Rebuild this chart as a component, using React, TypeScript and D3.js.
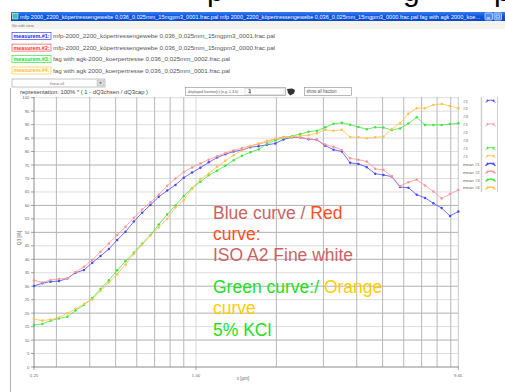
import React from "react";
import * as d3 from "d3";

// ---------- data ----------
const sizes = [0.2473,0.2658,0.2855,0.3068,0.3296,0.3540,0.3804,0.4087,0.4391,0.4717,0.5068,0.5445,0.5850,0.6285,0.6752,0.7254,0.7797,0.8375,0.8999,0.9667,1.0387,1.116,1.199,1.288,1.384,1.487,1.597,1.716,1.844,1.981,2.128,2.287,2.457,2.640,2.836,3.047,3.274,3.517,3.779,4.059,4.362,4.687,5.035,5.410,5.811,6.244,6.709,7.208,7.745,8.321,8.940,9.605];

const blueValues = [30.1,31.1,31.7,31.9,32.9,35.0,36.0,38.7,41.2,43.8,47.2,50.2,54.0,57.3,60.2,63.2,65.5,67.6,70.3,72.2,74.0,76.0,77.8,79.0,80.0,80.6,81.6,82.0,82.5,83.0,84.5,85.3,85.2,84.6,84.4,82.2,80.7,80.0,75.8,75.4,74.2,71.8,71.3,70.7,66.8,66.6,64.0,62.8,60.8,59.0,56.1,57.7];
const redValues = [32.2,31.4,32.3,32.7,32.9,35.3,37.2,39.7,42.8,45.9,49.0,52.1,55.4,58.5,61.2,64.0,67.3,70.0,72.4,74.1,75.6,77.0,78.3,79.4,80.4,81.3,82.1,82.8,83.6,84.7,85.4,85.5,85.2,84.8,84.2,82.6,81.8,80.6,77.5,77.0,76.3,73.6,73.2,70.8,67.2,68.6,69.6,67.4,65.2,62.6,64.2,65.7];
const greenValues = [15.6,16.0,17.2,18.0,18.7,21.0,23.0,25.6,29.0,32.2,35.9,39.3,42.4,45.8,49.0,52.9,56.6,60.0,63.5,66.4,68.8,71.2,72.9,74.7,76.8,78.4,79.7,80.8,82.8,84.2,85.1,85.7,86.5,87.4,87.7,89.0,90.3,90.7,90.0,89.1,88.3,89.0,88.9,88.0,88.6,90.4,92.7,89.9,89.9,89.9,90.2,90.5];
const orangeValues = [17.7,17.3,17.6,18.4,20.0,21.6,23.4,25.1,28.3,31.4,34.4,38.0,42.0,45.4,48.8,51.8,55.0,59.2,62.0,66.2,69.8,71.8,74.4,76.6,78.6,80.4,82.0,83.0,84.0,84.8,85.2,85.5,85.8,86.1,86.8,88.1,87.7,88.1,85.4,85.3,84.9,85.3,85.5,88.4,90.5,94.0,96.1,96.1,97.3,97.7,96.9,96.1];

const yTicks = [0,5,10,15,20,25,30,35,40,45,50,55,60,65,70,75,80,85,90,95,100];
const yDarkTicks = [0,10,20,30,40,50,60,75];
const xGridValues = [0.3,0.4,0.5,0.6,0.7,0.8,0.9,1,2,3,4,5,6,7,8,9];
const xTickValues = [0.2473, 1, 9.605];
const xTickLabels = ["0.25", "1.00", "9.65"];

const measurementNames = ["measurem.#1:", "measurem.#2:", "measurem.#3:", "measurem.#4:"];
const fileNames = [
  "mfp-2000_2200_köpertressengewebe 0,036_0,025mm_15mgpm3_0001.frac.pal",
  "mfp-2000_2200_köpertressengewebe 0,036_0,025mm_15mgpm3_0000.frac.pal",
  "fag with agk-2000_koerpertresse 0,036_0,025mm_0002.frac.pal",
  "fag with agk 2000_koerpertresse 0,036_0,025mm_0001.frac.pal",
];
const rightLegendLabels = ["#1","#2","#3","#1","#2","#3","#1","#1","mean #1","mean #2","mean #3","mean #4"];
const rightLegendIconSeries = [0, -1, -1, 1, -1, -1, 2, 3, 0, 1, 2, 3];

const seriesColors = ["#4a4aff", "#ff9494", "#40e640", "#ffc24e"];
const boxColors = ["#2323ff", "#ff3030", "#22dd22", "#ffc020"];

const titleText = "mfp 2000_2200_köpertressengewebe 0,036_0,025mm_15mgpm3_0001.frac.pal  mfp 2000_2200_köpertressengewebe 0,036_0,025mm_15mgpm3_0000.frac.pal  fag with agk 2000_koe...";

const FONT = "'Liberation Sans', Arial, sans-serif";

export default function App() {
  const x = d3.scaleLog().domain([0.2473, 9.605]).range([34, 458.3]);
  const y = d3.scaleLinear().domain([0, 100]).range([367, 97.7]);
  const allSeries = [blueValues, redValues, greenValues, orangeValues];
  const line = d3.line<number>().x((_, i) => x(sizes[i])).y((v) => y(v));

  const legendRowY = [36, 47.7, 59.2, 70.6];
  const fileLens = [222, 222, 177, 177];

  return (
    <svg width={505} height={392} style={{ position: "absolute", left: 0, top: 0, background: "#fff" }} fontFamily={FONT}>
      <defs>
        <linearGradient id="tb" x1="0" x2="0" y1="0" y2="1">
          <stop offset="0" stopColor="#3a7af0" />
          <stop offset="0.5" stopColor="#0a55e0" />
          <stop offset="1" stopColor="#0848c8" />
        </linearGradient>
        <clipPath id="topclip"><rect x={0} y={0} width={505} height={11} /></clipPath>
      </defs>
      <rect x={0} y={0} width={505} height={392} fill="#fff" />

      {/* big heading, cut off at the top */}
      <g clipPath="url(#topclip)" fill="#000" fontSize={30}>
        <text x={207} y={1}>p</text>
        <text x={403} y={1}>g</text>
        <text x={494} y={1}>p</text>
      </g>

      {/* title bar */}
      <rect x={11} y={12} width={494} height={9} fill="url(#tb)" />
      <rect x={12.5} y={13.5} width={5.5} height={5.5} fill="#3c9" stroke="#fff" strokeWidth={0.5} />
      <text x={20} y={18.7} fontSize={5.2} fill="#fff" textLength={460} lengthAdjust="spacingAndGlyphs">{titleText}</text>
      <rect x={485} y={13} width={7.5} height={7} rx={1} fill="#4d8af5" stroke="#fff" strokeWidth={0.6} />
      <rect x={494} y={13} width={7.5} height={7} rx={1} fill="#4d8af5" stroke="#fff" strokeWidth={0.6} />
      <rect x={487} y={17.5} width={3} height={1} fill="#fff" />
      <rect x={496} y={15} width={3.5} height={3} fill="none" stroke="#fff" strokeWidth={0.6} />

      {/* menu bar */}
      <rect x={11} y={21} width={494} height={8} fill="#f4f3ee" />
      <text x={12} y={26.5} fontSize={4} fill="#777">file  edit  view</text>

      {/* measurement rows */}
      {measurementNames.map((name, i) => (
        <g key={name}>
          <rect x={12} y={legendRowY[i] - 3.6} width={39} height={7} fill="#fff" stroke={boxColors[i]} strokeWidth={0.6} />
          <text x={13.5} y={legendRowY[i] + 1.8} fontSize={5} fontWeight="bold" fill={boxColors[i]} textLength={36} lengthAdjust="spacingAndGlyphs">{name}</text>
          <text x={53} y={legendRowY[i] + 2} fontSize={6} fill="#555" textLength={fileLens[i]} lengthAdjust="spacingAndGlyphs">{fileNames[i]}</text>
        </g>
      ))}

      {/* combo box */}
      <rect x={12} y={79} width={93} height={8} fill="#fff" stroke="#9a9a9a" strokeWidth={0.6} />
      <rect x={97} y={80} width={7} height={6} fill="#dcdcdc" stroke="#aaa" strokeWidth={0.4} />
      <path d="M99,82.3 L102,82.3 L100.5,84 Z" fill="#666" />
      <text x={50} y={84.6} fontSize={3.8} fill="#777">linear all</text>

      <text x={20} y={93.6} fontSize={5.6} fill="#444" textLength={128} lengthAdjust="spacingAndGlyphs">representation:  100% * ( 1 - dQ3chsen / dQ3cap )</text>

      {/* displayed fractions box */}
      <rect x={185.5} y={87.5} width={100} height={8} fill="#fff" stroke="#8a8a8a" strokeWidth={0.6} />
      <text x={188} y={93.2} fontSize={4.4} fill="#555" textLength={51} lengthAdjust="spacingAndGlyphs">displayed fraction(s) (e.g. 1,3,5):</text>
      <rect x={245} y={88.5} width={39} height={6} fill="#fff" stroke="#c8c8c8" strokeWidth={0.5} />
      <text x={248} y={93.3} fontSize={5} fill="#222">1</text>
      <line x1={250.5} x2={250.5} y1={89.3} y2={94} stroke="#333" strokeWidth={0.4} />
      <path d="M287,89 L292,88.5 L295,90 L294,93.5 L290,95.5 L288,93 Z" fill="#333" />
      <rect x={304.5} y={87.5} width={47} height={8} fill="#fff" stroke="#8a8a8a" strokeWidth={0.6} />
      <text x={306.5} y={93.2} fontSize={4.6} fill="#555" textLength={30} lengthAdjust="spacingAndGlyphs">show all fraction</text>

      {/* window left border */}
      <line x1={10.5} x2={10.5} y1={88} y2={392} stroke="#b0b0b0" strokeWidth={1} />

      {/* grid */}
      {yTicks.filter((t) => t > 0).map((t) => (
        <line key={"hy" + t} x1={34} x2={458.3} y1={y(t)} y2={y(t)}
          stroke={yDarkTicks.includes(t) ? "#b0b0b0" : "#dedede"} strokeWidth={1} />
      ))}
      {xGridValues.map((v) => (
        <line key={"vx" + v} x1={x(v)} x2={x(v)} y1={97} y2={367}
          stroke={v === 1 ? "#d8d8d8" : "#b8b8b8"} strokeWidth={1} />
      ))}
      <line x1={458.3} x2={458.3} y1={97} y2={367} stroke="#c8c8c8" strokeWidth={1} />

      {/* axes */}
      <line x1={34} x2={34} y1={97} y2={367.5} stroke="#8a8a8a" strokeWidth={1} />
      <line x1={33.5} x2={458.8} y1={367} y2={367} stroke="#8a8a8a" strokeWidth={1} />
      {yTicks.map((t) => (
        <g key={"yt" + t}>
          <line x1={31} x2={34} y1={y(t)} y2={y(t)} stroke="#777" strokeWidth={0.7} />
          <text x={29.5} y={y(t) + 1.5} fontSize={4.3} fill="#666" textAnchor="end">{t}</text>
        </g>
      ))}
      {xTickValues.map((v, i) => (
        <g key={"xt" + i}>
          <line x1={x(v)} x2={x(v)} y1={367} y2={370} stroke="#777" strokeWidth={0.7} />
          <text x={x(v)} y={376.5} fontSize={4.3} fill="#666" textAnchor="middle">{xTickLabels[i]}</text>
        </g>
      ))}
      <text x={243} y={380} fontSize={4.5} fill="#666" textAnchor="middle">x [µm]</text>
      <text transform="translate(21,238) rotate(-90)" fontSize={4.5} fill="#666" textAnchor="middle">Q3 [%]</text>

      {/* series */}
      {allSeries.map((vals, si) => (
        <g key={"s" + si}>
          <path d={line(vals) || ""} fill="none" stroke={seriesColors[si]} strokeWidth={0.8} />
          {vals.map((v, i) => (
            <circle key={i} cx={x(sizes[i])} cy={y(v)} r={1.25} fill={seriesColors[si]} />
          ))}
        </g>
      ))}

      {/* right legend */}
      <line x1={481.5} x2={481.5} y1={97} y2={192} stroke="#cfcfcf" strokeWidth={1.5} />
      <line x1={497.5} x2={497.5} y1={97} y2={192} stroke="#cfcfcf" strokeWidth={1} />
      {rightLegendLabels.map((lab, i) => {
        const yy = 101 + i * 7.9;
        const si = rightLegendIconSeries[i];
        return (
          <g key={"rl" + i}>
            <text x={463} y={yy + 1.5} fontSize={4.3} fill="#666">{lab}</text>
            {si >= 0 && (
              <g>
                <path d={`M485.5,${yy + 1.5} Q490.5,${yy - 3.5} 495.5,${yy + 1.5}`} fill="none"
                  stroke={seriesColors[si]} strokeWidth={i >= 8 ? 1.4 : 0.9} />
                <circle cx={487.5} cy={yy - 0.6} r={1} fill={seriesColors[si]} />
                <circle cx={493.5} cy={yy - 0.6} r={1} fill={seriesColors[si]} />
              </g>
            )}
          </g>
        );
      })}

      {/* annotations */}
      <g fontSize={17.5}>
        <text x={213} y={219}>
          <tspan fill="#c86464">Blue curve / </tspan>
          <tspan fill="#ff4f1f">Red</tspan>
        </text>
        <text x={213} y={240} fill="#ff4f1f">curve:</text>
        <text x={213} y={261} fill="#c86464">ISO A2 Fine white</text>
        <text x={213} y={293}>
          <tspan fill="#22e022">Green curve:/ </tspan>
          <tspan fill="#ffcc00">Orange</tspan>
        </text>
        <text x={213} y={314} fill="#ffcc00">curve</text>
        <text x={213} y={336} fill="#22e022">5% KCl</text>
      </g>
    </svg>
  );
}
